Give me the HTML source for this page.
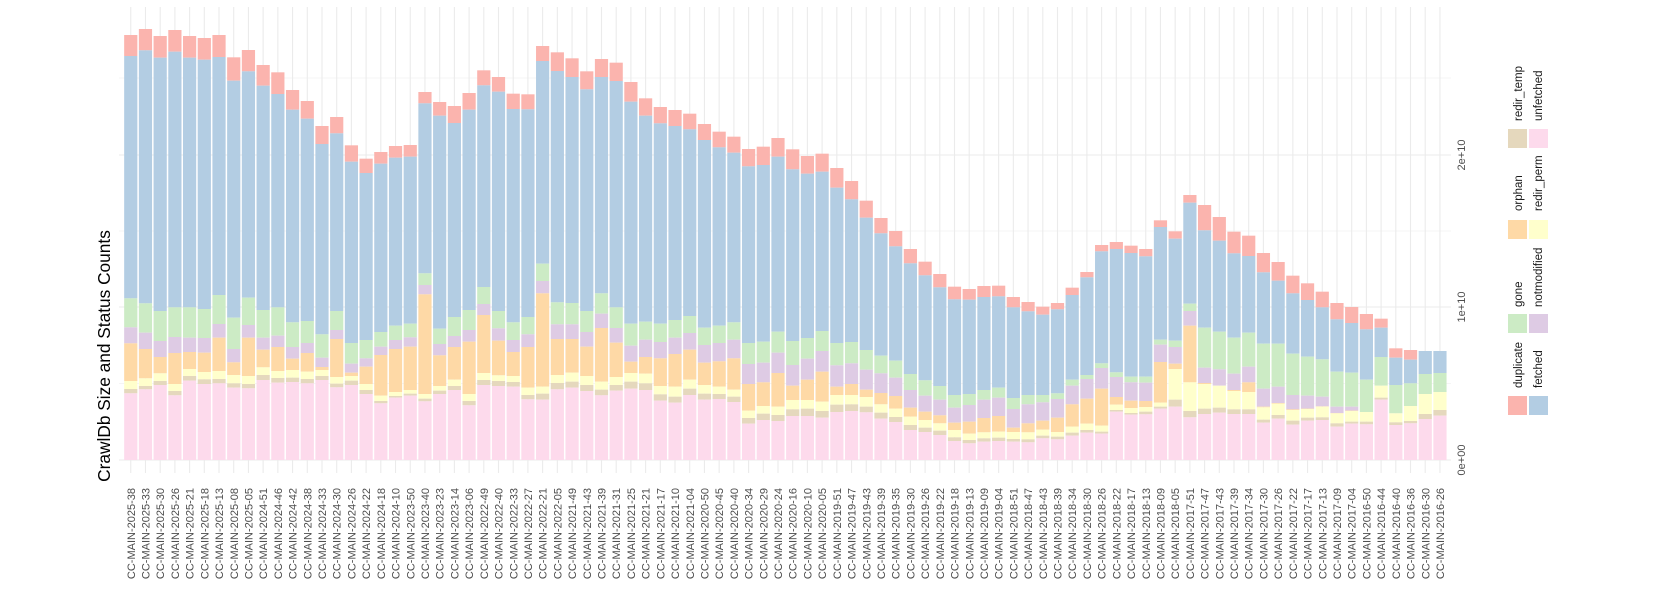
<!DOCTYPE html>
<html><head><meta charset="utf-8"><style>
html,body{margin:0;padding:0;background:#fff;width:1654px;height:610px;overflow:hidden}
svg{display:block}
text{font-family:"Liberation Sans",sans-serif}
.xl{font-size:11px;fill:#4d4d4d}
.lg{font-size:11.5px;fill:#1a1a1a}
</style></head><body>
<svg id="s" width="1654" height="610" xmlns="http://www.w3.org/2000/svg">
<g id="grid"></g>
<g id="bars"></g>
<text transform="translate(110,356) rotate(-90)" text-anchor="middle" style="font-size:17.3px;fill:#000">CrawlDb Size and Status Counts</text>
<text class="xl" transform="translate(1465,460) rotate(-90)" text-anchor="middle">0e+00</text>
<text class="xl" transform="translate(1465,307) rotate(-90)" text-anchor="middle">1e+10</text>
<text class="xl" transform="translate(1465,155) rotate(-90)" text-anchor="middle">2e+10</text>
<g id="xlabels">
<text class="xl" transform="translate(134.8,488) rotate(-90)" text-anchor="end">CC-MAIN-2025-38</text>
<text class="xl" transform="translate(149.5,488) rotate(-90)" text-anchor="end">CC-MAIN-2025-33</text>
<text class="xl" transform="translate(164.2,488) rotate(-90)" text-anchor="end">CC-MAIN-2025-30</text>
<text class="xl" transform="translate(178.9,488) rotate(-90)" text-anchor="end">CC-MAIN-2025-26</text>
<text class="xl" transform="translate(193.6,488) rotate(-90)" text-anchor="end">CC-MAIN-2025-21</text>
<text class="xl" transform="translate(208.4,488) rotate(-90)" text-anchor="end">CC-MAIN-2025-18</text>
<text class="xl" transform="translate(223.1,488) rotate(-90)" text-anchor="end">CC-MAIN-2025-13</text>
<text class="xl" transform="translate(237.8,488) rotate(-90)" text-anchor="end">CC-MAIN-2025-08</text>
<text class="xl" transform="translate(252.5,488) rotate(-90)" text-anchor="end">CC-MAIN-2025-05</text>
<text class="xl" transform="translate(267.2,488) rotate(-90)" text-anchor="end">CC-MAIN-2024-51</text>
<text class="xl" transform="translate(281.9,488) rotate(-90)" text-anchor="end">CC-MAIN-2024-46</text>
<text class="xl" transform="translate(296.6,488) rotate(-90)" text-anchor="end">CC-MAIN-2024-42</text>
<text class="xl" transform="translate(311.3,488) rotate(-90)" text-anchor="end">CC-MAIN-2024-38</text>
<text class="xl" transform="translate(326.0,488) rotate(-90)" text-anchor="end">CC-MAIN-2024-33</text>
<text class="xl" transform="translate(340.7,488) rotate(-90)" text-anchor="end">CC-MAIN-2024-30</text>
<text class="xl" transform="translate(355.5,488) rotate(-90)" text-anchor="end">CC-MAIN-2024-26</text>
<text class="xl" transform="translate(370.2,488) rotate(-90)" text-anchor="end">CC-MAIN-2024-22</text>
<text class="xl" transform="translate(384.9,488) rotate(-90)" text-anchor="end">CC-MAIN-2024-18</text>
<text class="xl" transform="translate(399.6,488) rotate(-90)" text-anchor="end">CC-MAIN-2024-10</text>
<text class="xl" transform="translate(414.3,488) rotate(-90)" text-anchor="end">CC-MAIN-2023-50</text>
<text class="xl" transform="translate(429.0,488) rotate(-90)" text-anchor="end">CC-MAIN-2023-40</text>
<text class="xl" transform="translate(443.7,488) rotate(-90)" text-anchor="end">CC-MAIN-2023-23</text>
<text class="xl" transform="translate(458.4,488) rotate(-90)" text-anchor="end">CC-MAIN-2023-14</text>
<text class="xl" transform="translate(473.1,488) rotate(-90)" text-anchor="end">CC-MAIN-2023-06</text>
<text class="xl" transform="translate(487.8,488) rotate(-90)" text-anchor="end">CC-MAIN-2022-49</text>
<text class="xl" transform="translate(502.5,488) rotate(-90)" text-anchor="end">CC-MAIN-2022-40</text>
<text class="xl" transform="translate(517.3,488) rotate(-90)" text-anchor="end">CC-MAIN-2022-33</text>
<text class="xl" transform="translate(532.0,488) rotate(-90)" text-anchor="end">CC-MAIN-2022-27</text>
<text class="xl" transform="translate(546.7,488) rotate(-90)" text-anchor="end">CC-MAIN-2022-21</text>
<text class="xl" transform="translate(561.4,488) rotate(-90)" text-anchor="end">CC-MAIN-2022-05</text>
<text class="xl" transform="translate(576.1,488) rotate(-90)" text-anchor="end">CC-MAIN-2021-49</text>
<text class="xl" transform="translate(590.8,488) rotate(-90)" text-anchor="end">CC-MAIN-2021-43</text>
<text class="xl" transform="translate(605.5,488) rotate(-90)" text-anchor="end">CC-MAIN-2021-39</text>
<text class="xl" transform="translate(620.2,488) rotate(-90)" text-anchor="end">CC-MAIN-2021-31</text>
<text class="xl" transform="translate(634.9,488) rotate(-90)" text-anchor="end">CC-MAIN-2021-25</text>
<text class="xl" transform="translate(649.6,488) rotate(-90)" text-anchor="end">CC-MAIN-2021-21</text>
<text class="xl" transform="translate(664.4,488) rotate(-90)" text-anchor="end">CC-MAIN-2021-17</text>
<text class="xl" transform="translate(679.1,488) rotate(-90)" text-anchor="end">CC-MAIN-2021-10</text>
<text class="xl" transform="translate(693.8,488) rotate(-90)" text-anchor="end">CC-MAIN-2021-04</text>
<text class="xl" transform="translate(708.5,488) rotate(-90)" text-anchor="end">CC-MAIN-2020-50</text>
<text class="xl" transform="translate(723.2,488) rotate(-90)" text-anchor="end">CC-MAIN-2020-45</text>
<text class="xl" transform="translate(737.9,488) rotate(-90)" text-anchor="end">CC-MAIN-2020-40</text>
<text class="xl" transform="translate(752.6,488) rotate(-90)" text-anchor="end">CC-MAIN-2020-34</text>
<text class="xl" transform="translate(767.3,488) rotate(-90)" text-anchor="end">CC-MAIN-2020-29</text>
<text class="xl" transform="translate(782.0,488) rotate(-90)" text-anchor="end">CC-MAIN-2020-24</text>
<text class="xl" transform="translate(796.7,488) rotate(-90)" text-anchor="end">CC-MAIN-2020-16</text>
<text class="xl" transform="translate(811.4,488) rotate(-90)" text-anchor="end">CC-MAIN-2020-10</text>
<text class="xl" transform="translate(826.2,488) rotate(-90)" text-anchor="end">CC-MAIN-2020-05</text>
<text class="xl" transform="translate(840.9,488) rotate(-90)" text-anchor="end">CC-MAIN-2019-51</text>
<text class="xl" transform="translate(855.6,488) rotate(-90)" text-anchor="end">CC-MAIN-2019-47</text>
<text class="xl" transform="translate(870.3,488) rotate(-90)" text-anchor="end">CC-MAIN-2019-43</text>
<text class="xl" transform="translate(885.0,488) rotate(-90)" text-anchor="end">CC-MAIN-2019-39</text>
<text class="xl" transform="translate(899.7,488) rotate(-90)" text-anchor="end">CC-MAIN-2019-35</text>
<text class="xl" transform="translate(914.4,488) rotate(-90)" text-anchor="end">CC-MAIN-2019-30</text>
<text class="xl" transform="translate(929.1,488) rotate(-90)" text-anchor="end">CC-MAIN-2019-26</text>
<text class="xl" transform="translate(943.8,488) rotate(-90)" text-anchor="end">CC-MAIN-2019-22</text>
<text class="xl" transform="translate(958.5,488) rotate(-90)" text-anchor="end">CC-MAIN-2019-18</text>
<text class="xl" transform="translate(973.3,488) rotate(-90)" text-anchor="end">CC-MAIN-2019-13</text>
<text class="xl" transform="translate(988.0,488) rotate(-90)" text-anchor="end">CC-MAIN-2019-09</text>
<text class="xl" transform="translate(1002.7,488) rotate(-90)" text-anchor="end">CC-MAIN-2019-04</text>
<text class="xl" transform="translate(1017.4,488) rotate(-90)" text-anchor="end">CC-MAIN-2018-51</text>
<text class="xl" transform="translate(1032.1,488) rotate(-90)" text-anchor="end">CC-MAIN-2018-47</text>
<text class="xl" transform="translate(1046.8,488) rotate(-90)" text-anchor="end">CC-MAIN-2018-43</text>
<text class="xl" transform="translate(1061.5,488) rotate(-90)" text-anchor="end">CC-MAIN-2018-39</text>
<text class="xl" transform="translate(1076.2,488) rotate(-90)" text-anchor="end">CC-MAIN-2018-34</text>
<text class="xl" transform="translate(1090.9,488) rotate(-90)" text-anchor="end">CC-MAIN-2018-30</text>
<text class="xl" transform="translate(1105.6,488) rotate(-90)" text-anchor="end">CC-MAIN-2018-26</text>
<text class="xl" transform="translate(1120.3,488) rotate(-90)" text-anchor="end">CC-MAIN-2018-22</text>
<text class="xl" transform="translate(1135.1,488) rotate(-90)" text-anchor="end">CC-MAIN-2018-17</text>
<text class="xl" transform="translate(1149.8,488) rotate(-90)" text-anchor="end">CC-MAIN-2018-13</text>
<text class="xl" transform="translate(1164.5,488) rotate(-90)" text-anchor="end">CC-MAIN-2018-09</text>
<text class="xl" transform="translate(1179.2,488) rotate(-90)" text-anchor="end">CC-MAIN-2018-05</text>
<text class="xl" transform="translate(1193.9,488) rotate(-90)" text-anchor="end">CC-MAIN-2017-51</text>
<text class="xl" transform="translate(1208.6,488) rotate(-90)" text-anchor="end">CC-MAIN-2017-47</text>
<text class="xl" transform="translate(1223.3,488) rotate(-90)" text-anchor="end">CC-MAIN-2017-43</text>
<text class="xl" transform="translate(1238.0,488) rotate(-90)" text-anchor="end">CC-MAIN-2017-39</text>
<text class="xl" transform="translate(1252.7,488) rotate(-90)" text-anchor="end">CC-MAIN-2017-34</text>
<text class="xl" transform="translate(1267.4,488) rotate(-90)" text-anchor="end">CC-MAIN-2017-30</text>
<text class="xl" transform="translate(1282.2,488) rotate(-90)" text-anchor="end">CC-MAIN-2017-26</text>
<text class="xl" transform="translate(1296.9,488) rotate(-90)" text-anchor="end">CC-MAIN-2017-22</text>
<text class="xl" transform="translate(1311.6,488) rotate(-90)" text-anchor="end">CC-MAIN-2017-17</text>
<text class="xl" transform="translate(1326.3,488) rotate(-90)" text-anchor="end">CC-MAIN-2017-13</text>
<text class="xl" transform="translate(1341.0,488) rotate(-90)" text-anchor="end">CC-MAIN-2017-09</text>
<text class="xl" transform="translate(1355.7,488) rotate(-90)" text-anchor="end">CC-MAIN-2017-04</text>
<text class="xl" transform="translate(1370.4,488) rotate(-90)" text-anchor="end">CC-MAIN-2016-50</text>
<text class="xl" transform="translate(1385.1,488) rotate(-90)" text-anchor="end">CC-MAIN-2016-44</text>
<text class="xl" transform="translate(1399.8,488) rotate(-90)" text-anchor="end">CC-MAIN-2016-40</text>
<text class="xl" transform="translate(1414.5,488) rotate(-90)" text-anchor="end">CC-MAIN-2016-36</text>
<text class="xl" transform="translate(1429.3,488) rotate(-90)" text-anchor="end">CC-MAIN-2016-30</text>
<text class="xl" transform="translate(1444.0,488) rotate(-90)" text-anchor="end">CC-MAIN-2016-26</text>
</g>
<rect x="1508" y="396" width="19" height="19" fill="#FBB4AE"/>
<rect x="1529" y="396" width="19" height="19" fill="#B3CDE3"/>
<rect x="1508" y="314" width="19" height="19" fill="#CCEBC5"/>
<rect x="1529" y="314" width="19" height="19" fill="#DECBE4"/>
<rect x="1508" y="220" width="19" height="19" fill="#FED9A6"/>
<rect x="1529" y="220" width="19" height="19" fill="#FFFFCC"/>
<rect x="1508" y="129" width="19" height="19" fill="#E5D8BD"/>
<rect x="1529" y="129" width="19" height="19" fill="#FDDAEC"/>
<text class="lg" transform="translate(1522,388) rotate(-90)">duplicate</text>
<text class="lg" transform="translate(1542,388) rotate(-90)">fetched</text>
<text class="lg" transform="translate(1522,307) rotate(-90)">gone</text>
<text class="lg" transform="translate(1542,307) rotate(-90)">notmodified</text>
<text class="lg" transform="translate(1522,211) rotate(-90)">orphan</text>
<text class="lg" transform="translate(1542,211) rotate(-90)">redir_perm</text>
<text class="lg" transform="translate(1522,121) rotate(-90)">redir_temp</text>
<text class="lg" transform="translate(1542,121) rotate(-90)">unfetched</text>
</svg>
<script>
var D=[
[105,168,895,982,1030,1143,1167,1180],[87,151,910,998,1047,1135,1158,1168],[108,173,933,1023,1071,1120,1143,1155],
[90,155,922,1011,1059,1152,1173,1186],[108,173,922,1013,1056,1107,1128,1142],[114,179,927,1014,1058,1116,1138,1152],
[105,171,885,972,1013,1113,1137,1150],[172,242,953,1047,1087,1125,1150,1163],[150,214,893,975,1013,1128,1152,1165],
[195,257,930,1013,1049,1102,1125,1140],[217,282,922,1007,1041,1113,1134,1148],[270,329,967,1041,1076,1110,1133,1146],
[303,356,963,1029,1059,1115,1137,1150],[378,432,1003,1073,1101,1110,1128,1140],[351,400,933,990,1017,1131,1151,1162],
[436,485,1029,1091,1118,1128,1142,1155],[476,519,1020,1075,1100,1152,1170,1182],[456,491,996,1040,1065,1187,1203,1210],
[438,473,977,1020,1047,1176,1188,1193],[435,470,971,1012,1040,1170,1181,1187],[276,310,820,855,883,1182,1196,1204],
[306,347,986,1032,1066,1158,1172,1182],[318,369,951,1008,1041,1139,1158,1170],[279,329,930,990,1025,1182,1203,1216],
[211,256,861,912,945,1119,1140,1155],[231,275,933,985,1022,1126,1143,1158],[281,327,967,1020,1056,1128,1146,1160],
[283,328,951,1003,1041,1163,1185,1198],[138,183,791,843,880,1160,1181,1199],[157,213,907,973,1017,1125,1149,1168],
[175,231,909,973,1017,1118,1145,1163],[214,268,933,996,1040,1128,1155,1173],[177,231,880,941,984,1145,1169,1186],
[188,243,922,984,1028,1131,1155,1172],[246,305,971,1037,1085,1119,1145,1166],[295,347,965,1019,1071,1121,1150,1170],
[321,370,971,1026,1075,1158,1183,1202],[330,378,960,1013,1062,1160,1190,1208],[341,388,948,999,1049,1139,1166,1185],
[372,420,983,1035,1088,1155,1181,1199],[395,442,977,1029,1084,1160,1182,1197],[410,458,967,1019,1075,1169,1190,1206],
[447,499,1029,1092,1152,1232,1254,1271],[440,495,1025,1088,1147,1218,1241,1260],[414,470,995,1058,1119,1220,1245,1263],
[448,508,1023,1095,1157,1200,1228,1248],[468,521,1014,1076,1139,1200,1226,1248],[461,515,993,1053,1115,1205,1233,1253],
[504,563,1029,1096,1160,1185,1214,1236],[543,598,1026,1090,1152,1185,1213,1233],[602,653,1050,1109,1169,1191,1220,1237],
[654,700,1067,1120,1179,1213,1238,1256],[693,739,1082,1133,1188,1226,1251,1266],[747,790,1122,1170,1223,1250,1275,1290],
[785,826,1141,1187,1235,1260,1283,1296],[822,862,1158,1199,1246,1270,1292,1305],[860,898,1185,1223,1268,1290,1312,1323],
[867,899,1182,1215,1265,1301,1320,1330],[858,891,1170,1199,1254,1297,1315,1325],[857,889,1163,1193,1248,1295,1313,1323],
[891,922,1194,1227,1283,1296,1317,1325],[906,934,1185,1213,1270,1297,1318,1327],[920,944,1185,1207,1262,1289,1307,1315],
[909,928,1180,1197,1253,1296,1310,1318],[863,885,1139,1157,1213,1280,1298,1307],[816,832,1125,1137,1196,1271,1290,1298],
[735,754,1090,1104,1166,1277,1295,1301],[726,747,1117,1131,1191,1214,1230,1235],[737,759,1130,1147,1202,1224,1239,1244],
[747,769,1130,1148,1203,1221,1235,1243],[661,681,1019,1034,1086,1208,1220,1226],[694,716,1022,1041,1091,1107,1199,1220],
[585,608,911,933,977,1147,1233,1252],[615,691,983,1103,1149,1152,1226,1242],[651,722,995,1108,1157,1157,1223,1238],
[695,760,1013,1121,1170,1173,1228,1242],[707,768,998,1100,1147,1176,1228,1242],[759,817,1031,1166,1220,1222,1259,1268],
[786,842,1031,1160,1209,1211,1245,1256],[827,880,1061,1185,1228,1230,1262,1274],[850,900,1070,1187,1226,1227,1253,1262],
[875,922,1078,1190,1219,1220,1252,1260],[909,958,1115,1220,1239,1240,1270,1280],[921,969,1118,1220,1232,1233,1265,1271],
[942,988,1139,1236,1236,1236,1265,1273],[956,983,1071,1157,1157,1157,1193,1199],
[1045,1073,1155,1240,1240,1240,1267,1275],[1050,1079,1150,1218,1218,1218,1263,1270],
[1053,1053,1122,1182,1182,1182,1242,1257],[1053,1053,1119,1176,1176,1176,1230,1247]
];
var C=["#FBB4AE","#B3CDE3","#CCEBC5","#DECBE4","#FED9A6","#FFFFCC","#E5D8BD","#FDDAEC"];
var NS="http://www.w3.org/2000/svg";
function el(p,n,a){var e=document.createElementNS(NS,n);for(var k in a)e.setAttribute(k,a[k]);p.appendChild(e);return e;}
var g=document.getElementById("grid"),b=document.getElementById("bars");
[78,231,383.5].forEach(function(y){el(g,"line",{x1:119,x2:1451,y1:y,y2:y,stroke:"#ebebeb","stroke-width":0.6});});
[155,307,460].forEach(function(y){el(g,"line",{x1:119,x2:1451,y1:y,y2:y,stroke:"#ebebeb","stroke-width":1.1});});
var P=14.71,X0=123.4,W=13.2;
for(var i=0;i<90;i++){var cx=X0+P*i+P/2;el(g,"line",{x1:cx,x2:cx,y1:7,y2:473,stroke:"#ebebeb","stroke-width":1.1});}
for(var i=0;i<90;i++){
 var v=D[i].map(function(z){return z/3;});v.push(460);
 var x=X0+P*i+(P-W)/2;
 for(var s=0;s<8;s++){var t=v[s],bt=v[s+1];if(bt-t>0.2)el(b,"rect",{x:x.toFixed(2),y:t.toFixed(2),width:W,height:(bt-t).toFixed(2),fill:C[s]});}
}
</script>
</body></html>
